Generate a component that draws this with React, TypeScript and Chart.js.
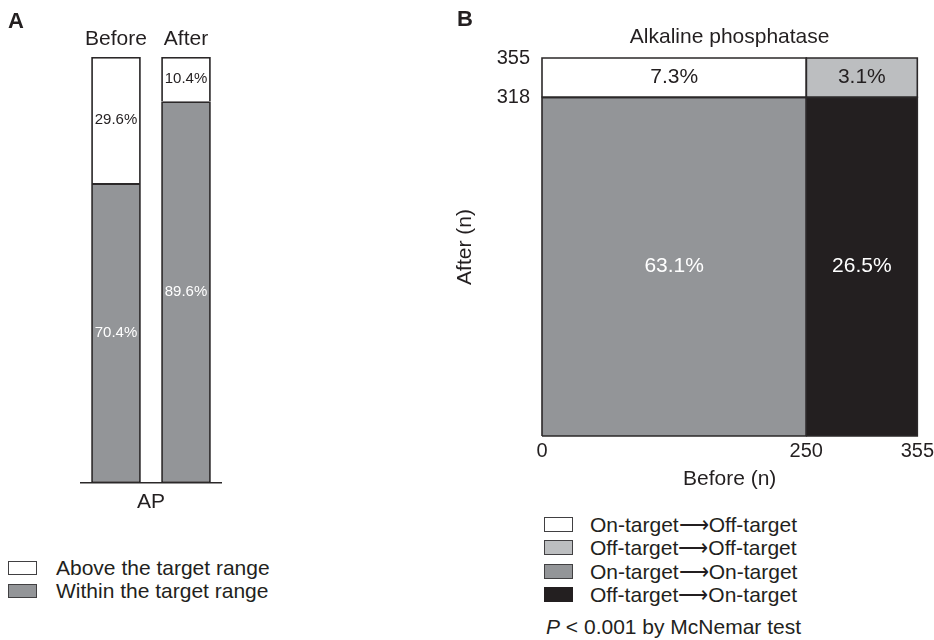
import React, { useEffect, useRef } from "react";
import { Chart, registerables } from "chart.js";

Chart.register(...registerables);

// ---------- Panel A data ----------
const barCategories = ["Before", "After"];
const barGroupLabel = "AP";
const withinRange = [70.4, 89.6];
const aboveRange = [29.6, 10.4];
const seriesANames = ["Within the target range", "Above the target range"];

// ---------- Panel B data ----------
const mosaicTitle = "Alkaline phosphatase";
const xBreaks = [0, 250, 355]; // Before (n)
const yBreaks = [0, 318, 355]; // After (n)
const xTicks = [0, 250, 355];
const yTicks = [318, 355];
const cellCols = [0, 1, 0, 1];
const cellRows = [0, 0, 1, 1];
const cellPercents = ["63.1%", "26.5%", "7.3%", "3.1%"];
const cellNames = [
  "On-target\u27F6On-target",
  "Off-target\u27F6On-target",
  "On-target\u27F6Off-target",
  "Off-target\u27F6Off-target",
];
const legendBOrder = [2, 3, 0, 1];
const pText = " < 0.001 by McNemar test";

// ---------- styles ----------
const FONT = "'Liberation Sans', Arial, Helvetica, sans-serif";
const INK = "#231f20";
const EDGE = "#2b2829";
const GRAY = "#939598";
const LIGHT = "#bcbec0";
const BLACK = "#231f20";
const cellColors = [GRAY, BLACK, "#ffffff", LIGHT];
const cellTextColors = ["#ffffff", "#ffffff", INK, INK];
const barColors = [GRAY, "#ffffff"];
const barTextColors = ["#ffffff", INK];

Chart.defaults.font.family = FONT;
Chart.defaults.color = INK;

const barLabelPlugin = {
  id: "barLabels",
  afterDatasetsDraw(chart: any) {
    const ctx = chart.ctx;
    chart.data.datasets.forEach((ds: any, di: number) => {
      const meta = chart.getDatasetMeta(di);
      meta.data.forEach((el: any, i: number) => {
        const { x, y, base } = el.getProps(["x", "y", "base"], true);
        ctx.save();
        ctx.fillStyle = barTextColors[di];
        ctx.font = `15px ${FONT}`;
        ctx.textAlign = "center";
        ctx.textBaseline = "middle";
        ctx.fillText(ds.data[i].toFixed(1) + "%", x, (y + base) / 2);
        ctx.restore();
      });
    });
  },
};

const cellLabelPlugin = {
  id: "cellLabels",
  afterDatasetsDraw(chart: any) {
    const ctx = chart.ctx;
    const xs = chart.scales.x;
    const ys = chart.scales.y;
    cellPercents.forEach((t, k) => {
      const c = cellCols[k];
      const r = cellRows[k];
      const cx = xs.getPixelForValue((xBreaks[c] + xBreaks[c + 1]) / 2);
      const cy = ys.getPixelForValue((yBreaks[r] + yBreaks[r + 1]) / 2);
      ctx.save();
      ctx.fillStyle = cellTextColors[k];
      ctx.font = `21px ${FONT}`;
      ctx.textAlign = "center";
      ctx.textBaseline = "middle";
      ctx.fillText(t, cx, cy);
      ctx.restore();
    });
  },
};

function PanelA() {
  const ref = useRef<HTMLCanvasElement>(null);
  useEffect(() => {
    const chart = new Chart(ref.current!, {
      type: "bar",
      data: {
        labels: barCategories,
        datasets: [
          {
            label: seriesANames[0],
            data: withinRange,
            backgroundColor: barColors[0],
            borderColor: EDGE,
            borderWidth: 1.8,
            borderSkipped: false,
            categoryPercentage: 1,
            barPercentage: 0.71,
          },
          {
            label: seriesANames[1],
            data: aboveRange,
            backgroundColor: barColors[1],
            borderColor: EDGE,
            borderWidth: 1.8,
            borderSkipped: "start",
            categoryPercentage: 1,
            barPercentage: 0.71,
          },
        ],
      } as any,
      options: {
        animation: false,
        responsive: false,
        events: [],
        layout: { padding: { left: 81, right: 79, top: 0, bottom: 0 } },
        plugins: { legend: { display: false }, tooltip: { enabled: false } },
        scales: {
          x: {
            stacked: true,
            position: "bottom",
            grid: { display: false, drawTicks: false },
            border: { display: true, color: EDGE, width: 1.5 },
            ticks: { display: false },
            title: {
              display: true,
              text: barGroupLabel,
              color: INK,
              font: { size: 21, family: FONT },
              padding: { top: 0, bottom: 15 },
            },
            afterFit: (s: any) => {
              s.height = 47;
            },
          },
          xTop: {
            type: "category",
            position: "top",
            labels: barCategories,
            grid: { display: false, drawTicks: false },
            border: { display: false },
            ticks: { color: INK, font: { size: 21, family: FONT }, padding: 5 },
            afterFit: (s: any) => {
              s.height = 57;
            },
          },
          y: { stacked: true, display: false, min: 0, max: 100 },
        },
      } as any,
      plugins: [barLabelPlugin],
    });
    return () => chart.destroy();
  }, []);
  return (
    <canvas
      ref={ref}
      width={300}
      height={530}
      style={{ position: "absolute", left: 0, top: 0, width: 300, height: 530 }}
    />
  );
}

function PanelB() {
  const ref = useRef<HTMLCanvasElement>(null);
  useEffect(() => {
    const fills = cellPercents.map((_, k) => {
      const c = cellCols[k];
      const r = cellRows[k];
      return {
        label: cellNames[k],
        data: [
          { x: xBreaks[c], y: yBreaks[r + 1] },
          { x: xBreaks[c + 1], y: yBreaks[r + 1] },
        ],
        showLine: true,
        fill: { value: yBreaks[r] },
        backgroundColor: cellColors[k],
        borderColor: "rgba(0,0,0,0)",
        borderWidth: 1,
        pointRadius: 0,
        pointHoverRadius: 0,
        tension: 0,
        order: 1,
      };
    });
    const outlines = cellPercents.map((_, k) => {
      const c = cellCols[k];
      const r = cellRows[k];
      return {
        label: cellNames[k] + " outline",
        data: [
          { x: xBreaks[c], y: yBreaks[r] },
          { x: xBreaks[c], y: yBreaks[r + 1] },
          { x: xBreaks[c + 1], y: yBreaks[r + 1] },
          { x: xBreaks[c + 1], y: yBreaks[r] },
          { x: xBreaks[c], y: yBreaks[r] },
        ],
        showLine: true,
        fill: false,
        borderColor: EDGE,
        borderWidth: 1.6,
        pointRadius: 0,
        pointHoverRadius: 0,
        tension: 0,
        order: 0,
        clip: 4,
      };
    });
    const chart = new Chart(ref.current!, {
      type: "scatter",
      data: { datasets: [...outlines, ...fills] } as any,
      options: {
        animation: false,
        responsive: false,
        events: [],
        layout: { padding: 0 },
        plugins: { legend: { display: false }, tooltip: { enabled: false } },
        scales: {
          x: {
            type: "linear",
            position: "bottom",
            min: xBreaks[0],
            max: xBreaks[xBreaks.length - 1],
            afterBuildTicks: (s: any) => {
              s.ticks = xTicks.map((v) => ({ value: v }));
            },
            ticks: {
              color: INK,
              font: { size: 20, family: FONT },
              padding: 3,
              autoSkip: false,
              maxRotation: 0,
              callback: (v: any) => String(v),
            },
            grid: { display: false, drawTicks: false },
            border: { display: false },
            title: {
              display: true,
              text: "Before (n)",
              color: INK,
              font: { size: 21, family: FONT },
              padding: { top: 0, bottom: 4 },
            },
            afterFit: (s: any) => {
              s.height = 60;
            },
          },
          xTop: {
            type: "linear",
            position: "top",
            min: xBreaks[0],
            max: xBreaks[xBreaks.length - 1],
            ticks: { display: false },
            grid: { display: false, drawTicks: false },
            border: { display: false },
            title: {
              display: true,
              text: mosaicTitle,
              color: INK,
              font: { size: 21, family: FONT },
              padding: { top: 25, bottom: 0 },
            },
            afterFit: (s: any) => {
              s.height = 58;
            },
          },
          y: {
            type: "linear",
            min: yBreaks[0],
            max: yBreaks[yBreaks.length - 1],
            afterBuildTicks: (s: any) => {
              s.ticks = yTicks.map((v) => ({ value: v }));
            },
            ticks: {
              color: INK,
              font: { size: 20, family: FONT },
              padding: 12,
              autoSkip: false,
              callback: (v: any) => String(v),
            },
            grid: { display: false, drawTicks: false },
            border: { display: false },
            title: {
              display: true,
              text: "After (n)",
              color: INK,
              font: { size: 21, family: FONT },
              padding: { top: 13, bottom: 0 },
            },
            afterFit: (s: any) => {
              s.width = 102;
            },
          },
        },
      } as any,
      plugins: [cellLabelPlugin],
    });
    return () => chart.destroy();
  }, []);
  return (
    <canvas
      ref={ref}
      width={497}
      height={496}
      style={{ position: "absolute", left: 440, top: 0, width: 497, height: 496 }}
    />
  );
}

const textStyle: React.CSSProperties = {
  position: "absolute",
  fontFamily: FONT,
  fontSize: 21,
  lineHeight: "24px",
  color: INK,
  whiteSpace: "nowrap",
};

function Box({ left, top, color, h }: { left: number; top: number; color: string; h: number }) {
  return (
    <div
      style={{
        position: "absolute",
        left,
        top,
        width: 29,
        height: h,
        boxSizing: "border-box",
        border: `1.5px solid ${color === BLACK ? BLACK : "#414042"}`,
        background: color,
      }}
    />
  );
}

export default function App() {
  const legendA = [1, 0];
  return (
    <div
      style={{
        position: "absolute",
        left: 0,
        top: 0,
        width: 934,
        height: 640,
        overflow: "hidden",
        background: "#fff",
      }}
    >
      <PanelA />
      <PanelB />
      <div style={{ ...textStyle, left: 8, top: 9, fontWeight: "bold", fontSize: 22 }}>A</div>
      <div style={{ ...textStyle, left: 457, top: 7, fontWeight: "bold", fontSize: 22 }}>B</div>
      {legendA.map((s, i) => (
        <React.Fragment key={"a" + s}>
          <Box left={8} top={561 + i * 23} color={barColors[s]} h={14} />
          <div style={{ ...textStyle, left: 56, top: 556 + i * 23 }}>{seriesANames[s]}</div>
        </React.Fragment>
      ))}
      {legendBOrder.map((k, i) => (
        <React.Fragment key={"b" + k}>
          <Box left={544} top={517 + i * 23.3} color={cellColors[k]} h={15} />
          <div style={{ ...textStyle, left: 590, top: 513 + i * 23.3 }}>{cellNames[k]}</div>
        </React.Fragment>
      ))}
      <div style={{ ...textStyle, left: 546, top: 615 }}>
        <i>P</i>
        {pText}
      </div>
    </div>
  );
}
